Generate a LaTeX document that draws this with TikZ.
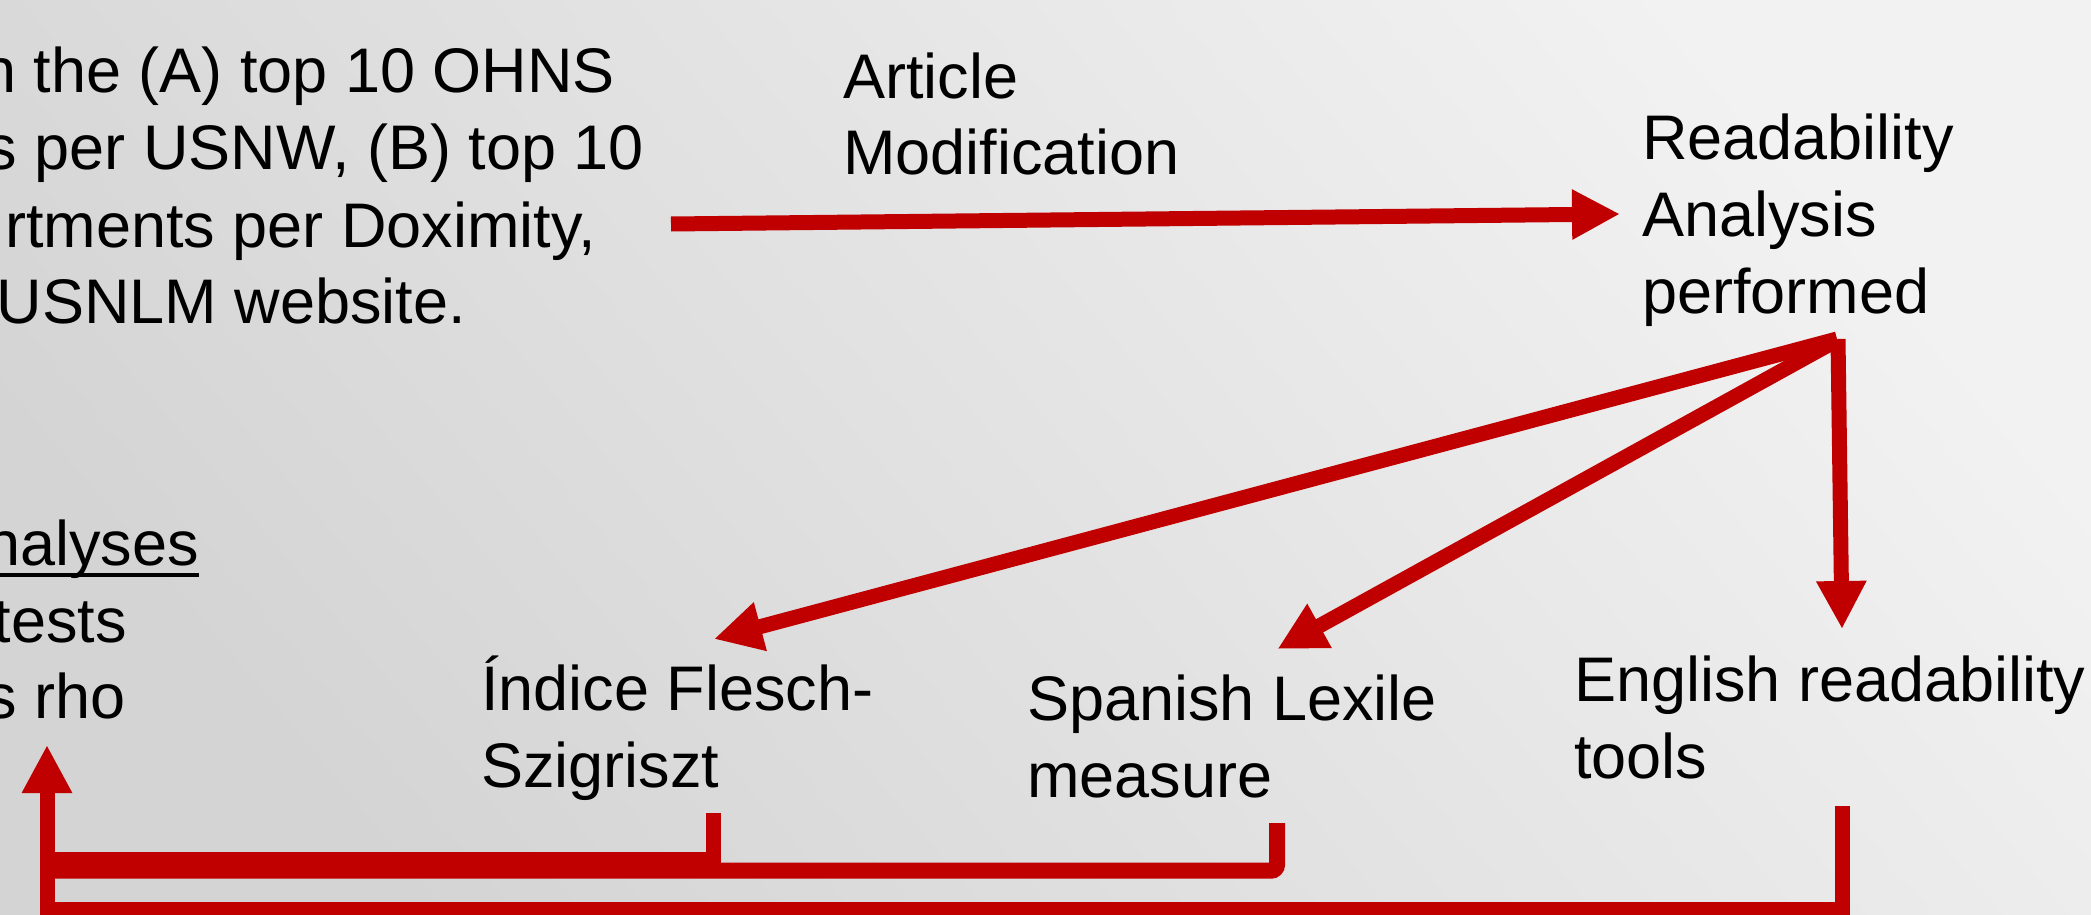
\documentclass[tikz,border=0pt]{standalone}
\usepackage{fontspec}
\setmainfont{Liberation Sans}
\usetikzlibrary{arrows.meta,calc}
\definecolor{arrred}{RGB}{192,0,0}
\definecolor{bgdark}{RGB}{212,212,212}
\definecolor{bglight}{RGB}{242,242,242}
\begin{document}
\begin{tikzpicture}[x=1pt,y=-1pt,
  txt/.style={inner sep=0pt, font=\fontsize{63}{76.7}\selectfont, text=black},
  blk/.style={txt, align=left, anchor=base west},
  conn/.style={draw=arrred, line width=15pt, line join=miter},
  arr/.style={conn, -{Triangle[length=48pt,width=47pt]}}]
\useasboundingbox (0,0) rectangle (2091,915);
\shade[left color=bgdark, right color=bglight, shading angle=130] (0,0) rectangle (2091,915);
\clip (0,0) rectangle (2091,915);

% texts (multi-line nodes are anchored at the baseline of their last line)
\node[txt, anchor=base east] (src1) at (615,93) {n the (A) top 10 OHNS};
\node[txt, anchor=base east] (src2) at (644,170) {s per USNW, (B) top 10};
\node[txt, anchor=base east] (src3) at (596,247) {rtments per Doximity,};
\node[txt, anchor=base east] (src4) at (466,323) {USNLM website.};

\node[blk] (mod) at (843,175) {Article\\Modification};
\node[blk] (ra) at (1642,313) {Readability\\Analysis\\performed};
\node[blk] (ifs) at (481,787) {Índice Flesch-\\Szigriszt};
\node[blk] (sl) at (1027,797) {Spanish Lexile\\measure};
\node[blk] (eng) at (1574,778) {English readability\\tools};

\node[txt, anchor=base east] (st1) at (199,565) {nalyses};
\node[txt, anchor=base east] (st2) at (127,642) {tests};
\node[txt, anchor=base east] (st3) at (126,718) {s rho};
\draw[line width=4pt] ($(st1.base west)+(0,9.5)$) -- ($(st1.base east)+(0,9.5)$);

% connector end points
\coordinate (srcout) at (671,224);
\coordinate (rain) at (1620,214);
\coordinate (raoutA) at (1837,339);
\coordinate (raoutB) at (1832,343);
\coordinate (raoutC) at (1838,339);
\coordinate (ifsin) at (714,639);
\coordinate (slin) at (1277.5,649);
\coordinate (engin) at (1842,629);
\coordinate (ifsout) at (713,813);
\coordinate (slout) at (1277,823);
\coordinate (engout) at (1842,806);
\coordinate (stin) at (47,745);
\coordinate (busA) at (47,859.5);
\coordinate (busB) at (47,870.7);
\coordinate (busC) at (47,909);

% connectors
\draw[arr] (srcout) -- (rain);
\draw[arr] (raoutA) -- (ifsin);
\draw[arr] (raoutB) -- (slin);
\draw[arr] (raoutC) -- (engin);
\draw[conn] (ifsout) |- (busA);
\draw[conn, line width=16pt, rounded corners=6pt] (slout) |- (busB);
\draw[arr] (engout) |- (busC) -- (stin);
\end{tikzpicture}
\end{document}
